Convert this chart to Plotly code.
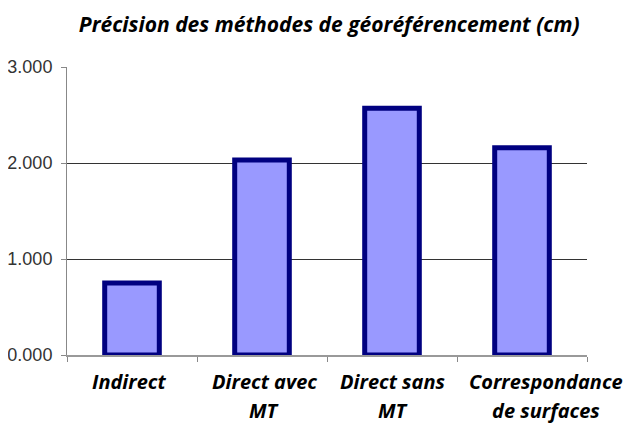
import plotly.graph_objects as go

categories = ["Indirect", "Direct avec<br>MT", "Direct sans<br>MT", "Correspondance<br>de surfaces"]
values = [0.75, 2.03, 2.57, 2.16]
title_text = "Précision des méthodes de géoréférencement (cm)"

label_font = dict(family="Open Sans", size=20, color="black")
label_xshift = [-3, 2, 1, 24]
line_yshift = [-26, -55]

positions = list(range(len(categories)))

fig = go.Figure(go.Bar(
    x=positions, y=values,
    marker=dict(color="#9999FF", line=dict(color="#000080", width=5)),
    width=0.42,
    hovertext=[c.replace("<br>", " ") for c in categories],
))

for pos, cat, xs in zip(positions, categories, label_xshift):
    for line, ys in zip(cat.split("<br>"), line_yshift):
        fig.add_annotation(x=pos, xref="x", y=0, yref="paper", yanchor="middle", xanchor="center",
                           text="<b><i>" + line + "</i></b>", showarrow=False,
                           xshift=xs, yshift=ys, font=label_font)

fig.update_layout(
    width=631, height=425,
    margin=dict(l=59, r=52, t=59, b=78, autoexpand=False),
    paper_bgcolor="white", plot_bgcolor="white",
    showlegend=False,
    title=dict(text="<b><i>" + title_text + "</i></b>", x=0.509, xanchor="center", y=0.962, yanchor="middle",
               font=dict(family="Open Sans", size=21, color="black")),
)
fig.update_yaxes(range=[0, 3], dtick=1, tickformat=".3f", showgrid=True, gridcolor="#333", gridwidth=1,
                 showline=True, linecolor="#888", linewidth=1, ticks="outside", ticklen=5, tickcolor="#888",
                 tickfont=dict(family="Liberation Sans", size=18, color="#333"), zeroline=False,
                 ticklabelstandoff=5, automargin=False)
fig.update_xaxes(type="linear", range=[-0.5, len(categories) - 0.5], tick0=-0.5, dtick=1,
                 showgrid=False, zeroline=False,
                 showline=True, linecolor="#999", linewidth=2, ticks="outside",
                 ticklen=5, tickcolor="#888", showticklabels=False, automargin=False)

fig.write_html("out.html")
